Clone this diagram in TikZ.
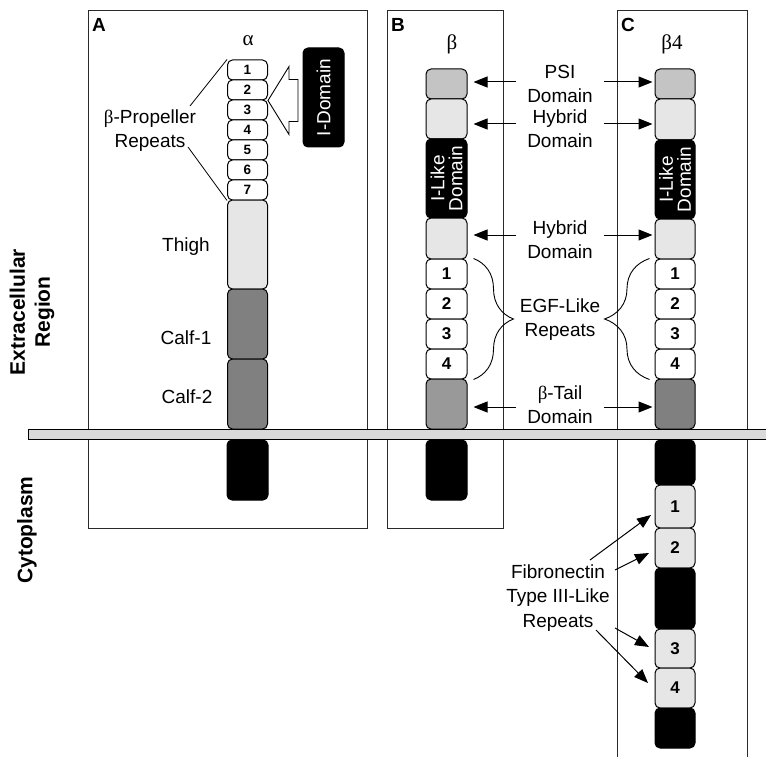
\documentclass[tikz,border=0pt]{standalone}
\usepackage{fontspec}
\setmainfont{Liberation Sans}
\newfontfamily\grk{Liberation Serif}
\usetikzlibrary{arrows.meta,decorations.pathreplacing}
\definecolor{lg}{HTML}{E6E6E6}
\definecolor{psig}{HTML}{C4C4C4}
\definecolor{calfg}{HTML}{808080}
\definecolor{tailb}{HTML}{999999}
\definecolor{memb}{HTML}{D9D9D9}
\definecolor{panelc}{HTML}{2A2A2A}
\begin{document}
\begin{tikzpicture}[x=1pt,y=-1pt,
  every node/.style={font=\fontsize{19}{24}\selectfont, inner sep=0pt},
  dom/.style={draw=black, line width=1pt, rounded corners=5pt, minimum width=40pt},
  dark/.style={dom, fill=black, text=white},
  num/.style={font=\bfseries\fontsize{17}{17}\selectfont},
  snum/.style={font=\bfseries\fontsize{13.5}{13.5}\selectfont},
  lbl/.style={align=center, inner xsep=11pt},
  panel/.style={draw=panelc, line width=0.9pt},
  arr/.style={line width=1pt, -{Triangle[length=14pt,width=11pt]}},
  brc/.style={line width=0.9pt, decorate, decoration={brace, amplitude=40pt}},
  plet/.style={font=\bfseries\fontsize{19}{19}\selectfont}
]
\useasboundingbox (0,0) rectangle (766,757);

% panels
\draw[panel] (88,10) rectangle (367,528);
\draw[panel] (387,10) rectangle (503,528);
\draw[panel] (617,760) -- (617,10) -- (747,10) -- (747,760);

\node[plet] (pa) at (99,25) {A};
\node[plet] (pb) at (398,25) {B};
\node[plet] (pc) at (628,25) {C};

\node[font=\grk\fontsize{21}{21}\selectfont] (alpha) at (248,41) {α};
\node[font=\grk\fontsize{21}{21}\selectfont] (beta) at (452,44) {β};
\node[font=\grk\fontsize{21}{21}\selectfont] (beta4) at (672,44) {β4};

% side labels
\node[rotate=90, align=center, font=\bfseries\fontsize{21}{25}\selectfont] (extra) at (32,312) {Extracellular\\Region};
\node[rotate=90, font=\bfseries\fontsize{21}{25}\selectfont] (cyto) at (27,530) {Cytoplasm};

% alpha chain
\node[dom, fill=white, minimum height=20pt, snum] (ar1) at (247.5,70) {1};
\node[dom, fill=white, minimum height=20pt, snum] (ar2) at (247.5,90) {2};
\node[dom, fill=white, minimum height=20pt, snum] (ar3) at (247.5,110) {3};
\node[dom, fill=white, minimum height=20pt, snum] (ar4) at (247.5,130) {4};
\node[dom, fill=white, minimum height=20pt, snum] (ar5) at (247.5,150) {5};
\node[dom, fill=white, minimum height=20pt, snum] (ar6) at (247.5,170) {6};
\node[dom, fill=white, minimum height=20pt, snum] (ar7) at (247.5,190) {7};
\node[dom, fill=lg, minimum height=89pt] (thigh) at (247.5,244.5) {};
\node[dom, fill=calfg, minimum height=70pt] (calf1) at (247.5,324) {};
\node[dom, fill=calfg, minimum height=70pt] (calf2) at (247.5,394) {};
\node[dark, minimum width=41pt, minimum height=60pt] (acyt) at (247.5,470) {};

\node (thighL) at (186,247) {Thigh};
\node (calf1L) at (186,338) {Calf-1};
\node (calf2L) at (187,397) {Calf-2};

\node[align=center] (prop) at (150,131) {{\grk β}-Propeller\\Repeats};
\coordinate (p1) at (190,106);
\coordinate (p2) at (188,147);
\draw[line width=0.8pt] (p1) -- (ar1.north west);
\draw[line width=0.8pt] (p2) -- (ar7.south west);

% I-domain and hollow arrow
\node[dark, rotate=90, minimum width=99pt, minimum height=41pt] (idom) at (323.5,97.5) {I-Domain};
\coordinate (ht) at (ar2.south east);
\draw[fill=white, line width=0.9pt] (ht) -- ++(21,-34) -- ++(0,13) -- ++(9,0) -- ++(0,42) -- ++(-9,0) -- ++(0,13) -- cycle;

% beta chain (B)
\node[dom, fill=psig, minimum width=41pt, minimum height=30pt] (bpsi) at (446.5,84) {};
\node[dom, fill=lg, minimum width=41pt, minimum height=40pt] (bhy1) at (446.5,119) {};
\node[dark, rotate=90, minimum width=79pt, minimum height=41pt, align=center, font=\fontsize{19}{18}\selectfont] (bil) at (446.5,178.5) {I-Like\\Domain};
\node[dom, fill=lg, minimum width=41pt, minimum height=41pt] (bhy2) at (446.5,238.5) {};
\node[dom, fill=white, minimum width=41pt, minimum height=30pt, num] (be1) at (446.5,274) {1};
\node[dom, fill=white, minimum width=41pt, minimum height=30pt, num] (be2) at (446.5,304) {2};
\node[dom, fill=white, minimum width=41pt, minimum height=30pt, num] (be3) at (446.5,334) {3};
\node[dom, fill=white, minimum width=41pt, minimum height=30pt, num] (be4) at (446.5,364) {4};
\node[dom, fill=tailb, minimum width=41pt, minimum height=50pt] (btail) at (446.5,404) {};
\node[dark, minimum width=41pt, minimum height=60pt] (bcyt) at (446.5,470) {};

% beta4 chain (C)
\node[dom, fill=psig, minimum height=30pt] (cpsi) at (675,84) {};
\node[dom, fill=lg, minimum height=41pt] (chy1) at (675,119.5) {};
\node[dark, rotate=90, minimum width=79pt, minimum height=40pt, align=center, font=\fontsize{19}{18}\selectfont] (cil) at (675,179.5) {I-Like\\Domain};
\node[dom, fill=lg, minimum height=40pt] (chy2) at (675,239) {};
\node[dom, fill=white, minimum height=30pt, num] (ce1) at (675,274) {1};
\node[dom, fill=white, minimum height=30pt, num] (ce2) at (675,304) {2};
\node[dom, fill=white, minimum height=30pt, num] (ce3) at (675,334) {3};
\node[dom, fill=white, minimum height=30pt, num] (ce4) at (675,364) {4};
\node[dom, fill=calfg, minimum height=50pt] (ctail) at (675,404) {};
\node[dark, minimum height=45pt] (ccy1) at (675,462.5) {};
\node[dom, fill=lg, minimum height=43pt, num] (fn1) at (675,506.5) {1};
\node[dom, fill=lg, minimum height=40pt, num] (fn2) at (675,548) {2};
\node[dark, minimum height=61pt] (ccy2) at (675,598.5) {};
\node[dom, fill=lg, minimum height=39pt, num] (fn3) at (675,648.5) {3};
\node[dom, fill=lg, minimum height=40pt, num] (fn4) at (675,688) {4};
\node[dark, minimum height=40pt] (ccy3) at (675,728) {};

% membrane
\draw[fill=memb, line width=1pt] (28,429) rectangle (770,439);

% middle labels and arrows
\node[lbl] (psiL) at (560,84) {PSI\\Domain};
\node[lbl] (hy1L) at (560,129) {Hybrid\\Domain};
\node[lbl] (hy2L) at (560,240) {Hybrid\\Domain};
\node[lbl] (egfL) at (560,320) {EGF-Like\\Repeats};
\node[lbl] (tailL) at (560,405) {{\grk β}-Tail\\Domain};

\coordinate (psiA) at ([yshift=2pt]psiL.west);
\coordinate (psiB) at ([yshift=2pt]psiL.east);
\coordinate (hy1A) at ([yshift=5pt]hy1L.west);
\coordinate (hy1B) at ([yshift=5pt]hy1L.east);
\coordinate (hy2A) at ([yshift=5pt]hy2L.west);
\coordinate (hy2B) at ([yshift=5pt]hy2L.east);
\coordinate (tailA) at ([yshift=-2pt]tailL.west);
\coordinate (tailB) at ([yshift=-2pt]tailL.east);

\draw[arr, shorten >=6pt] (psiA) -- (psiA -| bpsi.east);
\draw[arr, shorten >=2pt] (psiB) -- (psiB -| cpsi.west);
\draw[arr, shorten >=6pt] (hy1A) -- (hy1A -| bhy1.east);
\draw[arr, shorten >=2pt] (hy1B) -- (hy1B -| chy1.west);
\draw[arr, shorten >=6pt] (hy2A) -- (hy2A -| bhy2.east);
\draw[arr, shorten >=2pt] (hy2B) -- (hy2B -| chy2.west);
\draw[arr, shorten >=6pt] (tailA) -- (tailA -| btail.east);
\draw[arr, shorten >=2pt] (tailB) -- (tailB -| ctail.west);

\draw[brc] ([xshift=6pt]be1.north east) -- ([xshift=6pt]be4.south east);
\draw[brc, decoration={brace, amplitude=45pt}] ([xshift=-5pt]ce4.south west) -- ([xshift=-5pt]ce1.north west);

% fibronectin
\node[align=center, font=\fontsize{19}{24.5}\selectfont] (fnL) at (558,598) {Fibronectin\\Type III-Like\\Repeats};
\coordinate (f1s) at (590,560);
\coordinate (f1e) at (651,515);
\coordinate (f2s) at (615,570);
\coordinate (f2e) at (649,553);
\coordinate (f3s) at (615,628);
\coordinate (f3e) at (649,647);
\coordinate (f4s) at (596,630);
\coordinate (f4e) at (648,683);
\draw[arr] (f1s) -- (f1e);
\draw[arr] (f2s) -- (f2e);
\draw[arr] (f3s) -- (f3e);
\draw[arr] (f4s) -- (f4e);
\end{tikzpicture}
\end{document}
